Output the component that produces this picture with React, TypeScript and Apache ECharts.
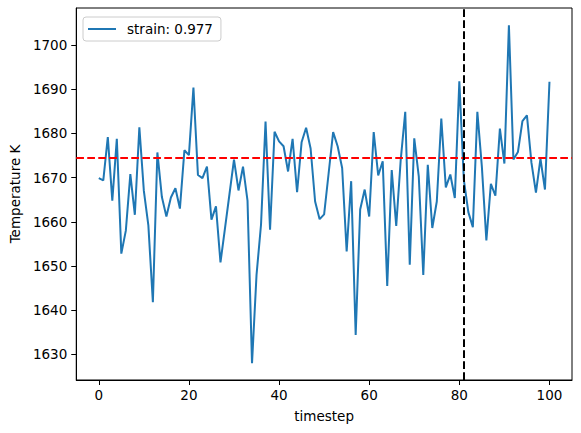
import React, { useEffect, useRef } from "react";
import * as echarts from "echarts";

const timesteps: number[] = Array.from({ length: 101 }, (_, i) => i);
const temperature: number[] = [
  1669.9, 1669.4, 1679.2, 1664.8, 1678.8, 1652.8, 1658.0, 1670.8, 1661.6, 1681.4,
  1667.0, 1659.2, 1641.8, 1675.7, 1665.6, 1661.2, 1665.5, 1667.6, 1663.0, 1676.2,
  1675.1, 1690.4, 1670.6, 1669.9, 1672.5, 1660.5, 1663.5, 1650.8, 1658.5, 1666.3,
  1674.1, 1667.1, 1672.5, 1664.8, 1628.0, 1648.0, 1659.4, 1682.7, 1658.2, 1680.4,
  1678.2, 1677.1, 1671.4, 1678.8, 1666.7, 1678.0, 1681.3, 1676.6, 1664.6, 1660.6,
  1661.7, 1671.0, 1680.3, 1677.1, 1672.2, 1653.3, 1669.2, 1634.4, 1662.8, 1667.3,
  1661.2, 1680.3, 1670.5, 1673.7, 1645.5, 1671.7, 1659.1, 1674.1, 1684.9, 1650.3,
  1678.9, 1670.3, 1648.0, 1672.9, 1658.6, 1664.6, 1683.4, 1667.8, 1670.7, 1665.4,
  1691.8, 1669.5, 1662.2, 1658.8, 1684.9, 1672.5, 1655.8, 1668.6, 1665.9, 1681.1,
  1673.2, 1704.5, 1674.1, 1675.8, 1682.8, 1684.1, 1673.4, 1666.6, 1674.3, 1667.3,
  1691.7,
];
const seriesName = "strain: 0.977";
const horizontalRef = 1674.4;
const verticalRef = 81;
const xTicks: number[] = [0, 20, 40, 60, 80, 100];
const yTicks: number[] = [1630, 1640, 1650, 1660, 1670, 1680, 1690, 1700];
const xLabel = "timestep";
const yLabel = "Temperature K";

const FONT = "DejaVu Sans";

export default function App() {
  const ref = useRef<HTMLDivElement>(null);
  useEffect(() => {
    if (!ref.current) return;
    const chart = echarts.init(ref.current, undefined, { renderer: "svg" });
    const data = timesteps.map((t, i) => [t, temperature[i]]);
    chart.setOption({
      animation: false,
      backgroundColor: "#ffffff",
      textStyle: { fontFamily: FONT },
      grid: {
        left: 76,
        right: 9,
        top: 8,
        bottom: 53,
        show: true,
        borderColor: "#000",
        borderWidth: 1,
        backgroundColor: "transparent",
      },
      legend: {
        show: true,
        left: 83,
        top: 17,
        orient: "vertical",
        backgroundColor: "rgba(255,255,255,0.8)",
        borderColor: "#cccccc",
        borderWidth: 1,
        borderRadius: 3,
        padding: [5, 8, 5, 5],
        itemWidth: 28,
        itemHeight: 10,
        itemGap: 6,
        textStyle: { fontFamily: FONT, fontSize: 13.5, color: "#000", padding: [0, 0, 0, 6] },
        data: [{ name: seriesName, icon: "path://M0,5 L28,5 L28,7 L0,7 Z" }],
      },
      xAxis: {
        type: "value",
        min: -5,
        max: 105,
        name: xLabel,
        nameLocation: "middle",
        nameGap: 29,
        nameTextStyle: { fontFamily: FONT, fontSize: 13.5, color: "#000" },
        splitLine: { show: false },
        axisLine: { show: true, onZero: false, lineStyle: { color: "#000", width: 1 } },
        axisTick: {
          show: true,
          inside: false,
          length: 5,
          lineStyle: { color: "#000", width: 1 },
          customValues: xTicks,
        },
        axisLabel: {
          show: true,
          margin: 8,
          fontFamily: FONT,
          fontSize: 13.5,
          color: "#000",
          customValues: xTicks,
          formatter: (v: number) => String(v),
        },
      },
      yAxis: {
        type: "value",
        min: 1624.2,
        max: 1708.4,
        name: yLabel,
        nameLocation: "middle",
        nameGap: 49,
        nameRotate: 90,
        nameTextStyle: { fontFamily: FONT, fontSize: 13.5, color: "#000" },
        splitLine: { show: false },
        axisLine: { show: true, onZero: false, lineStyle: { color: "#000", width: 1 } },
        axisTick: {
          show: true,
          inside: false,
          length: 5,
          lineStyle: { color: "#000", width: 1 },
          customValues: yTicks,
        },
        axisLabel: {
          show: true,
          margin: 9,
          fontFamily: FONT,
          fontSize: 13.5,
          color: "#000",
          customValues: yTicks,
          formatter: (v: number) => String(v),
        },
      },
      series: [
        {
          name: seriesName,
          type: "line",
          data,
          symbol: "none",
          showSymbol: false,
          lineStyle: { color: "#1f77b4", width: 2 },
          itemStyle: { color: "#1f77b4" },
          z: 2,
          markLine: {
            silent: true,
            symbol: "none",
            label: { show: false },
            animation: false,
            data: [
              {
                yAxis: horizontalRef,
                lineStyle: { color: "#ff0000", width: 2, type: [7.7, 3.3] },
              },
              {
                xAxis: verticalRef,
                lineStyle: { color: "#000000", width: 2, type: [7.7, 3.3] },
              },
            ],
          },
        },
      ],
    });
    return () => chart.dispose();
  }, []);
  return (
    <div
      ref={ref}
      style={{ position: "fixed", left: 0, top: 0, width: 581, height: 433 }}
    />
  );
}
